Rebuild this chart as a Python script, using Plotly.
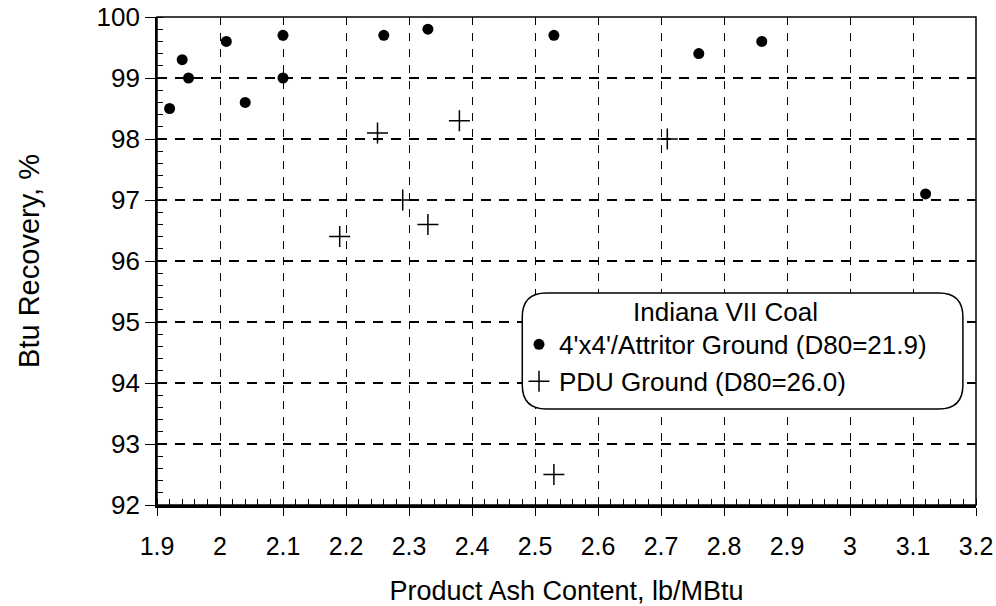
import plotly.graph_objects as go

# Data
attritor_x = [1.92, 1.94, 1.95, 2.01, 2.04, 2.10, 2.10, 2.26, 2.33, 2.53, 2.76, 2.86, 3.12]
attritor_y = [98.5, 99.3, 99.0, 99.6, 98.6, 99.7, 99.0, 99.7, 99.8, 99.7, 99.4, 99.6, 97.1]
pdu_x = [2.19, 2.25, 2.29, 2.33, 2.38, 2.53, 2.71]
pdu_y = [96.4, 98.1, 97.0, 96.6, 98.3, 92.5, 98.0]

x_ticks = [1.9, 2.0, 2.1, 2.2, 2.3, 2.4, 2.5, 2.6, 2.7, 2.8, 2.9, 3.0, 3.1, 3.2]
x_labels = ["1.9", "2", "2.1", "2.2", "2.3", "2.4", "2.5", "2.6", "2.7", "2.8", "2.9", "3", "3.1", "3.2"]
y_ticks = [92, 93, 94, 95, 96, 97, 98, 99, 100]

legend_title = "Indiana VII Coal"
name_attritor = "4'x4'/Attritor Ground (D80=21.9)"
name_pdu = "PDU Ground (D80=26.0)"
x_title = "Product Ash Content, lb/MBtu"
y_title = "Btu Recovery, %"

FONT = "Liberation Sans, Arial, sans-serif"

fig = go.Figure()
fig.add_trace(go.Scatter(
    x=attritor_x, y=attritor_y, mode="markers", name=name_attritor,
    marker=dict(symbol="circle", size=11, color="black"),
))
fig.add_trace(go.Scatter(
    x=pdu_x, y=pdu_y, mode="markers", name=name_pdu,
    marker=dict(symbol="cross-thin", size=15, color="black",
                line=dict(color="black", width=1.5)),
))

PLOT_W, PLOT_H = 996 - 157 - 20, 606 - 17 - 101

# Rounded legend box (paper coordinates)
L, R, T, B = 0.446, 0.984, 0.4344, 0.1967
rx, ry = 24 / PLOT_W, 24 / PLOT_H
path = (f"M {L+rx},{T} L {R-rx},{T} Q {R},{T} {R},{T-ry} "
        f"L {R},{B+ry} Q {R},{B} {R-rx},{B} L {L+rx},{B} "
        f"Q {L},{B} {L},{B+ry} L {L},{T-ry} Q {L},{T} {L+rx},{T} Z")

fig.update_layout(
    width=996, height=606,
    margin=dict(l=157, r=20, t=17, b=101, autoexpand=False),
    paper_bgcolor="white", plot_bgcolor="white",
    font=dict(family=FONT, size=26, color="black"),
    showlegend=True,
    legend=dict(
        x=L - 0.004, xanchor="left", y=T + 0.012, yanchor="top",
        bgcolor="rgba(0,0,0,0)", borderwidth=0,
        title=dict(text=legend_title, side="top center", font=dict(size=26)),
        font=dict(size=26), itemwidth=30, tracegroupgap=0,
    ),
    shapes=[
        dict(type="path", xref="paper", yref="paper", path=path,
             line=dict(color="black", width=1.5), fillcolor="white", layer="above"),
        dict(type="rect", xref="paper", yref="paper", x0=0, x1=1, y0=0, y1=1,
             line=dict(color="black", width=1.5), layer="above"),
    ],
    xaxis=dict(
        range=[1.9, 3.2], tickvals=x_ticks, ticktext=x_labels,
        showgrid=True, gridcolor="black", gridwidth=1, griddash="8px,8px",
        showline=True, linecolor="black", linewidth=2.5,
        ticks="outside", ticklen=8, tickcolor="black", tickwidth=1,
        ticklabelstandoff=9, ticklabeloverflow="allow",
        tickfont=dict(size=25), automargin=False,
        minor=dict(dtick=0.02, tick0=1.9, ticks="inside", ticklen=6,
                   tickcolor="black", tickwidth=1, showgrid=False),
        title=dict(text=x_title, font=dict(size=27), standoff=26),
        zeroline=False, fixedrange=True,
    ),
    yaxis=dict(
        range=[92, 100], tickvals=y_ticks,
        showgrid=True, gridcolor="black", gridwidth=1.5, griddash="10px,8px",
        showline=True, linecolor="black", linewidth=1.8,
        ticks="outside", ticklen=10, tickcolor="black", tickwidth=1,
        tickfont=dict(size=26), automargin=False,
        minor=dict(dtick=0.2, tick0=92, ticks="inside", ticklen=6,
                   tickcolor="black", tickwidth=1, showgrid=False),
        title=dict(text=y_title, font=dict(size=29), standoff=48),
        zeroline=False, fixedrange=True,
    ),
)

fig.write_html("out.html")
